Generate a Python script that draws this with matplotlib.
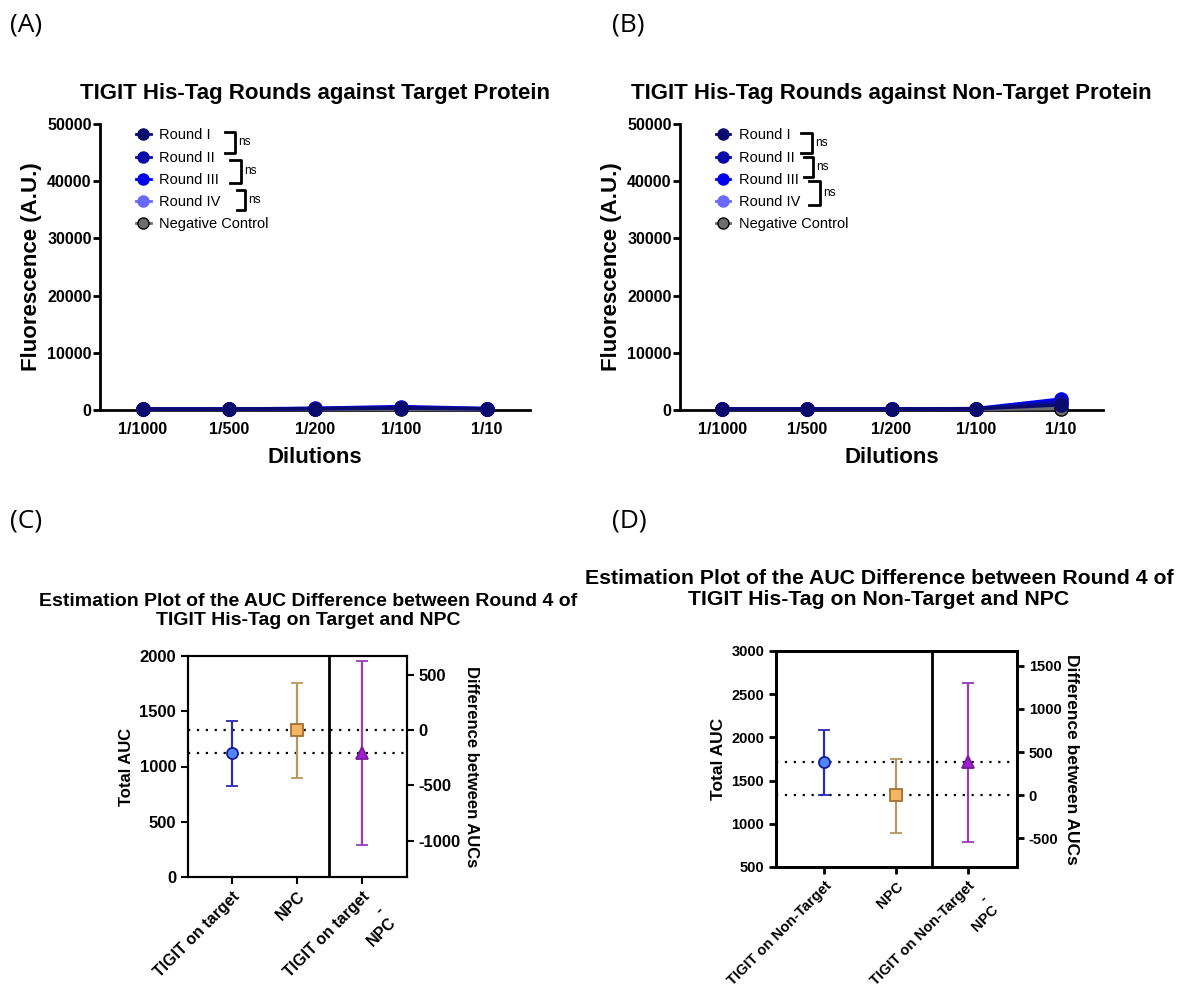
import matplotlib
matplotlib.use('Agg')
import matplotlib.pyplot as plt
from matplotlib.lines import Line2D

plt.rcParams['font.family'] = ['Liberation Sans', 'DejaVu Sans']
plt.rcParams['axes.unicode_minus'] = False

# --- data ---
dilutions = ['1/1000', '1/500', '1/200', '1/100', '1/10']
series_names = ['Round I', 'Round II', 'Round III', 'Round IV', 'Negative Control']
series_colors = ['#0b0b6e', '#0a0aa8', '#0000ee', '#6a6aff', '#6e6e6e']

target_r1 = [150, 150, 200, 300, 200]
target_r2 = [160, 160, 250, 400, 250]
target_r3 = [170, 170, 300, 600, 250]
target_r4 = [150, 150, 250, 350, 200]
target_neg = [100, 100, 100, 100, 100]

nontarget_r1 = [150, 150, 150, 200, 900]
nontarget_r2 = [160, 160, 160, 220, 1400]
nontarget_r3 = [170, 170, 170, 250, 1900]
nontarget_r4 = [150, 150, 150, 200, 1200]
nontarget_neg = [100, 100, 100, 120, 250]

# estimation plots: mean, lower CI, upper CI
est_labels_c = ['TIGIT on target', 'NPC', 'TIGIT on target\n-\nNPC']
tigit_target = [1120, 825, 1415]
npc_c = [1330, 900, 1755]
diff_c = [-210, -1040, 625]

est_labels_d = ['TIGIT on Non-Target', 'NPC', 'TIGIT on Non-Target\n-\nNPC']
tigit_nontarget = [1710, 1330, 2090]
npc_d = [1330, 895, 1755]
diff_d = [380, -535, 1295]

W, H = 1189, 986
fig = plt.figure(figsize=(W / 100, H / 100), dpi=100)


def px_axes(l, t, r, b):
    return fig.add_axes([l / W, 1 - b / H, (r - l) / W, (b - t) / H])


def bracket(ax, x0, x1, y0, y1, tx, ty):
    ax.plot([x0, x1, x1, x0], [y0, y0, y1, y1], color='black', lw=2,
            transform=ax.transAxes, clip_on=False)
    ax.text(tx, ty, 'ns', transform=ax.transAxes, fontsize=8.5, va='center', ha='left')


def dilution_panel(ax, data, title, brackets):
    x = range(len(dilutions))
    for i in reversed(range(len(data))):
        edge = 'black' if i == 4 else series_colors[i]
        ax.plot(x, data[i], '-o', color=series_colors[i], mfc=series_colors[i], mec=edge,
                lw=2.5, ms=9.5, zorder=3 + (5 - i), clip_on=False)
    ax.set_xlim(-0.5, 4.5)
    ax.set_ylim(0, 50000)
    ax.set_yticks(range(0, 50001, 10000))
    ax.set_xticks(list(x))
    ax.set_xticklabels(dilutions)
    for s in ['top', 'right']:
        ax.spines[s].set_visible(False)
    for s in ['left', 'bottom']:
        ax.spines[s].set_linewidth(2)
    ax.tick_params(axis='y', width=2, length=5, labelsize=11.5, pad=1)
    ax.tick_params(axis='x', length=0, labelsize=11.5, pad=9)
    for lab in ax.get_xticklabels() + ax.get_yticklabels():
        lab.set_fontweight('bold')
    ax.set_xlabel('Dilutions', fontsize=16, fontweight='bold', labelpad=7)
    ax.set_ylabel('Fluorescence (A.U.)', fontsize=16, fontweight='bold', labelpad=4)
    ax.set_title(title, fontsize=16, fontweight='bold', pad=18)
    handles = [Line2D([], [], color=series_colors[i], marker='o', ms=8, lw=2,
                      mec='black' if i == 4 else series_colors[i]) for i in range(5)]
    ax.legend(handles, series_names, loc='upper left', bbox_to_anchor=(0.06, 1.02),
              frameon=False, fontsize=10.5, handlelength=1.0, handletextpad=0.6,
              labelspacing=0.56, borderpad=0.2)
    for b in brackets:
        bracket(ax, *b)


axA = px_axes(100, 124, 530, 410)
dilution_panel(axA, [target_r1, target_r2, target_r3, target_r4, target_neg],
               'TIGIT His-Tag Rounds against Target Protein',
               [(0.29, 0.314, 0.972, 0.899, 0.322, 0.937),
                (0.302, 0.328, 0.874, 0.794, 0.336, 0.836),
                (0.319, 0.337, 0.769, 0.699, 0.345, 0.734)])

axB = px_axes(680, 124, 1103, 410)
dilution_panel(axB, [nontarget_r1, nontarget_r2, nontarget_r3, nontarget_r4, nontarget_neg],
               'TIGIT His-Tag Rounds against Non-Target Protein',
               [(0.286, 0.312, 0.968, 0.899, 0.32, 0.934),
                (0.293, 0.314, 0.885, 0.815, 0.322, 0.85),
                (0.305, 0.331, 0.80, 0.717, 0.338, 0.759)])


def estimation_panel(ax, labels, first, npc, diff, ylim, yticks, rticks, fs_tick, fs_lab, fs_x, lw_frame):
    ax2 = ax.twinx()
    ax.set_xlim(-0.67, 2.69)
    ax.set_ylim(*ylim)
    ax2.set_ylim(ylim[0] - npc[0], ylim[1] - npc[0])
    ax.set_yticks(yticks)
    ax2.set_yticks(rticks)
    ax.axhline(npc[0], color='black', ls=(0, (1, 3)), lw=1.6, zorder=1)
    ax.axhline(first[0], color='black', ls=(0, (1, 3)), lw=1.6, zorder=1)
    ax.axvline(1.5, color='black', lw=2)
    ax.errorbar([0], [first[0]], yerr=[[first[0] - first[1]], [first[2] - first[0]]],
                fmt='o', ms=8, mfc='#4f86f7', mec='#1a1a9a', mew=1.3, ecolor='#2b2bb0',
                elinewidth=1.6, capsize=4.5, capthick=1.6, zorder=4)
    ax.errorbar([1], [npc[0]], yerr=[[npc[0] - npc[1]], [npc[2] - npc[0]]],
                fmt='s', ms=8, mfc='#f5b565', mec='#a07030', mew=1.3, ecolor='#b8975a',
                elinewidth=1.6, capsize=4.5, capthick=1.6, zorder=4)
    ax2.errorbar([2], [diff[0]], yerr=[[diff[0] - diff[1]], [diff[2] - diff[0]]],
                 fmt='^', ms=8, mfc='#a020d0', mec='#7a1a9a', mew=1.3, ecolor='#9b3bb5',
                 elinewidth=1.6, capsize=4.5, capthick=1.6, zorder=4)

    # third label: first line as tick label, the rest stacked below it
    head, rest = labels[2].split('\n', 1)
    ax.set_xticks([0, 1, 2])
    ax.set_xticklabels([labels[0], labels[1], head], rotation=45, ha='right',
                       rotation_mode='anchor')
    lh = 1.2 * fs_x
    drop = 5 + 3.5
    ax.annotate(rest, xy=(2, 0), xycoords=('data', 'axes fraction'),
                xytext=(0.707 * lh, -drop - 0.707 * lh), textcoords='offset points',
                rotation=45, rotation_mode='anchor', ha='right', va='top',
                multialignment='right', fontsize=fs_x, fontweight='bold',
                annotation_clip=False)
    for a in (ax, ax2):
        for s in a.spines.values():
            s.set_linewidth(lw_frame)
        a.tick_params(width=lw_frame, length=5, labelsize=fs_tick)
        for lab in a.get_xticklabels() + a.get_yticklabels():
            lab.set_fontweight('bold')
    ax.tick_params(axis='x', labelsize=fs_x)
    ax.set_ylabel('Total AUC', fontsize=fs_lab, fontweight='bold')
    ax2.set_ylabel('Difference between AUCs', fontsize=fs_lab, fontweight='bold',
                   rotation=270, va='bottom', labelpad=2)
    return ax2


axC = px_axes(188, 656, 407, 877)
estimation_panel(axC, est_labels_c, tigit_target, npc_c, diff_c, (0, 2000),
                 range(0, 2001, 500), range(-1000, 501, 500), 12, 12, 11.5, 1.5)

axD = px_axes(776, 651, 1017, 867)
estimation_panel(axD, est_labels_d, tigit_nontarget, npc_d, diff_d, (500, 3000),
                 range(500, 3001, 500), range(-500, 1501, 500), 10.5, 12.5, 10.5, 2)

fig.text(308 / W, 1 - 611 / H,
         'Estimation Plot of the AUC Difference between Round 4 of\nTIGIT His-Tag on Target and NPC',
         ha='center', va='center', fontsize=14, fontweight='bold', linespacing=1.15)
fig.text(879 / W, 1 - 589 / H,
         'Estimation Plot of the AUC Difference between Round 4 of\nTIGIT His-Tag on Non-Target and NPC',
         ha='center', va='center', fontsize=15.3, fontweight='bold', linespacing=1.1)

for lab, x, y in [('(A)', 10, 25), ('(B)', 612, 25), ('(C)', 10, 521), ('(D)', 612, 521)]:
    fig.text(x / W, 1 - y / H, lab, ha='left', va='center', fontsize=19,
             family=['Open Sans', 'DejaVu Sans'])

fig.savefig('out.png', dpi=100)
